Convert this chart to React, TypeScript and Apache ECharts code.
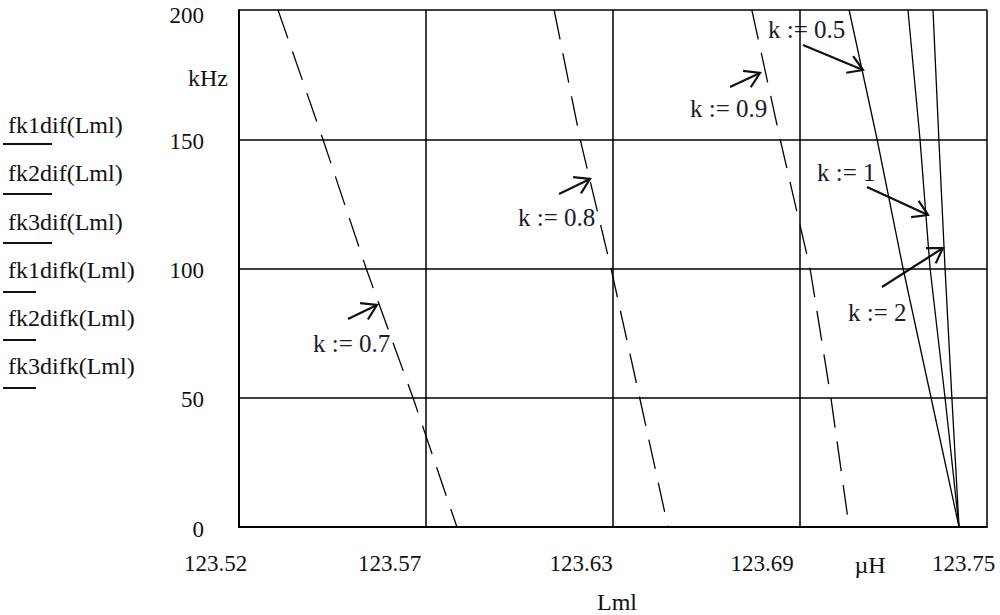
import React, { useEffect, useRef } from "react";
import * as echarts from "echarts";

// ---- data ----
const freq = [200, 150, 100, 50, 0]; // kHz
// solid traces
const fk1dif = [123.7076, 123.7162, 123.7242, 123.7328, 123.7414]; // k := 0.5
const fk2dif = [123.7257, 123.7294, 123.7325, 123.7371, 123.7414]; // k := 1
const fk3dif = [123.7334, 123.7352, 123.7371, 123.7392, 123.7414]; // k := 2
// dashed traces
const fk1difk = [123.532, 123.5458, 123.5591, 123.5735, 123.587]; // k := 0.7
const fk2difk = [123.6169, 123.6249, 123.6344, 123.6432, 123.6519]; // k := 0.8
const fk3difk = [123.6777, 123.6864, 123.6956, 123.702, 123.7076]; // k := 0.9

const seriesNames = [
  "fk1dif(Lml)",
  "fk2dif(Lml)",
  "fk3dif(Lml)",
  "fk1difk(Lml)",
  "fk2difk(Lml)",
  "fk3difk(Lml)",
];
const seriesValues = [fk1dif, fk2dif, fk3dif, fk1difk, fk2difk, fk3difk];
const seriesDashed = [false, false, false, true, true, true];

const xTicks = [123.52, 123.5775, 123.635, 123.6925, 123.75];
const xTickLabels = ["123.52", "123.57", "123.63", "123.69", "123.75"];
const yMin = 0;
const yMax = 200;
const yStep = 50;

const kLabels = ["k := 0.5", "k := 0.9", "k := 1", "k := 2", "k := 0.7", "k := 0.8"];

// ---- layout (pixels) ----
const SERIF = '"Liberation Serif", "Times New Roman", serif';
const INK = "#111";
const labelPadRight = [47, 73, 64, 76, 47];
const kLabelPos = [
  [768, 29],
  [690, 108],
  [817, 172],
  [848, 312],
  [313, 343],
  [518, 217],
];
const arrows = [
  [803, 45, 863, 70],
  [730, 87, 760, 73],
  [867, 187, 928, 215],
  [882, 287, 943, 248],
  [348, 319, 377, 305],
  [559, 194, 590, 179],
];
const legendRowsY = [125, 173, 222, 270, 318, 366];
const legendLineY = [144, 194, 243, 292, 340, 388];
const legendLineLen = [49, 49, 49, 33, 33, 33];

function arrowElements(a: number[]) {
  const [x1, y1, x2, y2] = a;
  const ang = Math.atan2(y1 - y2, x1 - x2);
  const L = 17;
  const spread = (32 * Math.PI) / 180;
  const w1 = [x2 + L * Math.cos(ang + spread), y2 + L * Math.sin(ang + spread)];
  const w2 = [x2 + L * Math.cos(ang - spread), y2 + L * Math.sin(ang - spread)];
  return [
    {
      type: "line",
      shape: { x1, y1, x2, y2 },
      style: { stroke: INK, lineWidth: 2.2 },
      silent: true,
    },
    {
      type: "polyline",
      shape: { points: [w1, [x2, y2], w2] },
      style: { stroke: INK, lineWidth: 2.2, fill: null },
      silent: true,
    },
  ];
}

export default function App() {
  const ref = useRef<HTMLDivElement>(null);

  useEffect(() => {
    document.body.style.margin = "0";
    if (!ref.current) return;
    const chart = echarts.init(ref.current, null, { renderer: "svg" });

    const graphics: any[] = [];
    graphics.push({
      type: "text",
      x: 228,
      y: 78,
      style: { text: "kHz", font: `24px ${SERIF}`, fill: INK, align: "right", verticalAlign: "middle" },
    });
    graphics.push({
      type: "text",
      x: 870,
      y: 565,
      style: { text: "\u00b5H", font: `24px ${SERIF}`, fill: INK, align: "center", verticalAlign: "middle" },
    });
    graphics.push({
      type: "text",
      x: 617,
      y: 602,
      style: { text: "Lml", font: `24px ${SERIF}`, fill: INK, align: "center", verticalAlign: "middle" },
    });
    seriesNames.forEach((n, i) => {
      graphics.push({
        type: "text",
        x: 8,
        y: legendRowsY[i],
        style: { text: n, font: `24px ${SERIF}`, fill: INK, align: "left", verticalAlign: "middle" },
      });
      graphics.push({
        type: "line",
        shape: { x1: 3, y1: legendLineY[i], x2: 3 + legendLineLen[i], y2: legendLineY[i] },
        style: { stroke: INK, lineWidth: 2 },
      });
    });
    kLabels.forEach((t, i) => {
      graphics.push({
        type: "text",
        x: kLabelPos[i][0],
        y: kLabelPos[i][1],
        style: { text: t, font: `25px ${SERIF}`, fill: "#1a1a2a", align: "left", verticalAlign: "middle" },
      });
      graphics.push(...arrowElements(arrows[i]));
    });

    chart.setOption({
      animation: false,
      backgroundColor: "#fff",
      grid: {
        left: 239,
        top: 10,
        right: 13,
        bottom: 88,
        containLabel: false,
        outerBoundsMode: "none",
      },
      xAxis: {
        type: "value",
        min: xTicks[0],
        max: xTicks[xTicks.length - 1],
        axisLine: { show: true, onZero: false, lineStyle: { color: "#000", width: 2 } },
        axisTick: { show: false, customValues: xTicks },
        splitLine: { show: true, lineStyle: { color: "#000", width: 1.5 } },
        axisLabel: {
          customValues: xTicks,
          margin: 24,
          align: "center",
          formatter: (v: number) => {
            let idx = 0;
            let best = Infinity;
            xTicks.forEach((t, i) => {
              const d = Math.abs(t - v);
              if (d < best) {
                best = d;
                idx = i;
              }
            });
            return `{p${idx}|${xTickLabels[idx]}}`;
          },
          rich: Object.fromEntries(
            labelPadRight.map((p, i) => [
              `p${i}`,
              { padding: [0, p, 0, 0], fontFamily: SERIF, fontSize: 23, color: INK, lineHeight: 24 },
            ])
          ),
          fontFamily: SERIF,
          fontSize: 23,
          color: INK,
          showMinLabel: true,
          showMaxLabel: true,
          hideOverlap: false,
        },
      },
      yAxis: {
        type: "value",
        min: yMin,
        max: yMax,
        interval: yStep,
        axisLine: { show: true, lineStyle: { color: "#000", width: 2 } },
        axisTick: { show: false },
        splitLine: { show: true, lineStyle: { color: "#000", width: 1.5 } },
        axisLabel: {
          margin: 35,
          fontFamily: SERIF,
          fontSize: 23,
          color: INK,
          formatter: (v: number) => (v === yMax ? `{top|${v}}` : `{n|${v}}`),
          rich: {
            top: { padding: [10, 0, 0, 0], fontFamily: SERIF, fontSize: 23, color: INK, lineHeight: 24 },
            n: { padding: [4, 0, 0, 0], fontFamily: SERIF, fontSize: 23, color: INK, lineHeight: 24 },
          },
        },
      },
      series: seriesNames.map((n, i) => ({
        name: n,
        type: "line",
        data: seriesValues[i].map((x, j) => [x, freq[j]]),
        showSymbol: false,
        symbol: "none",
        clip: true,
        lineStyle: {
          color: "#000",
          width: 1.3,
          type: seriesDashed[i] ? [30, 14] : "solid",
        },
        z: 3,
      })),
      graphic: graphics,
    });

    return () => chart.dispose();
  }, []);

  return (
    <div
      ref={ref}
      style={{ position: "absolute", left: 0, top: 0, width: 1000, height: 615, background: "#fff" }}
    />
  );
}
